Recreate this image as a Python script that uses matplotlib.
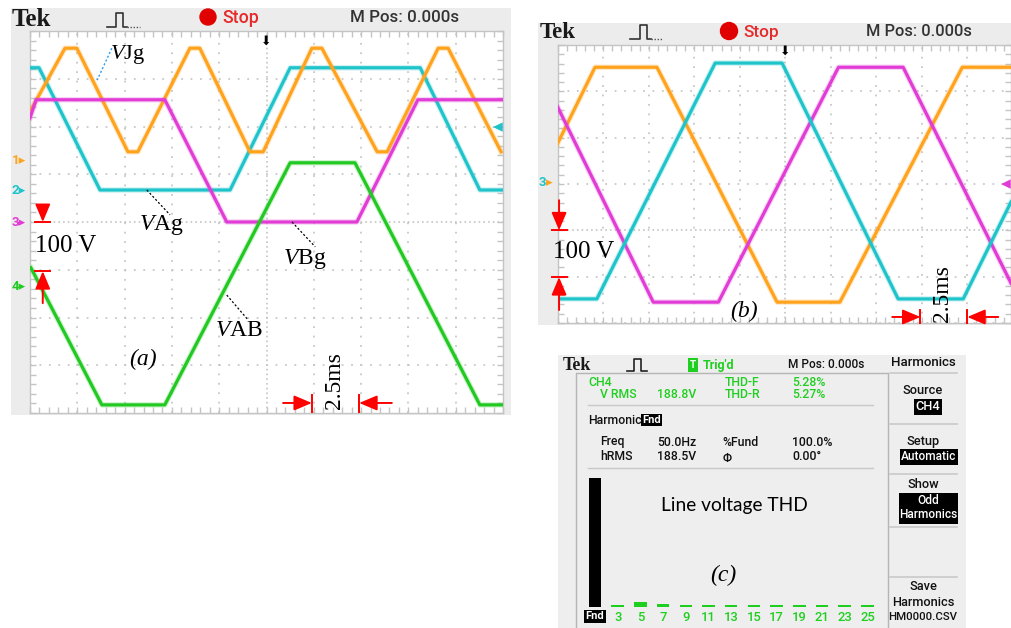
import numpy as np
import matplotlib
matplotlib.use('Agg')
import matplotlib.pyplot as plt
from matplotlib.ticker import MultipleLocator
from matplotlib.patches import Rectangle, Circle

plt.rcParams['lines.scale_dashes'] = False
plt.rcParams['mathtext.fontset'] = 'custom'
plt.rcParams['mathtext.rm'] = 'Liberation Serif'
plt.rcParams['mathtext.it'] = 'Liberation Serif:italic'

W, H = 1011, 628

ORANGE = '#ffa21c'
CYAN = '#1fc4ca'
MAGENTA = '#e23cd6'
GREEN = '#22c922'
SCOPE_GREEN = '#1fcf1f'
RED = '#ff0000'
PANEL = '#ececec'
GRID = '#c4c4c4'
SERIF = 'Liberation Serif'
UI = ['Roboto', 'DejaVu Sans']

# ── (a) waveforms, screen divisions (2.5 ms/div, 100 V/div) ──────────────────
vjg_t = [0.02, 0.74, 0.99, 2.07, 2.28, 3.38, 3.59, 4.65, 4.93, 5.96, 6.17,
         7.34, 7.55, 8.63, 8.84, 9.96]
vjg_v = [2.35, 3.64, 3.64, 1.47, 1.47, 3.64, 3.64, 1.47, 1.47, 3.64, 3.64,
         1.47, 1.47, 3.64, 3.64, 1.47]
vag_t = [0.0, 0.19, 1.48, 4.23, 5.50, 8.25, 9.51, 10.0]
vag_v = [3.23, 3.23, 0.67, 0.67, 3.23, 3.23, 0.67, 0.67]
vbg_t = [0.0, 0.13, 2.85, 4.16, 6.91, 8.20, 10.0]
vbg_v = [2.18, 2.56, 2.56, 0.0, 0.0, 2.56, 2.56]
vab_t = [0.02, 1.52, 2.85, 5.50, 6.87, 9.51, 10.0]
vab_v = [-0.96, -3.83, -3.83, 1.24, 1.24, -3.83, -3.83]

# ── (b) three line voltages ──────────────────────────────────────────────────
line1_t = [0.0, 0.82, 2.18, 4.82, 6.20, 8.89, 9.96]
line1_v = [1.88, 3.52, 3.52, -1.55, -1.55, 3.52, 3.52]
line2_t = [0.0, 0.86, 3.46, 4.93, 7.48, 8.91, 9.96]
line2_v = [-1.48, -1.48, 3.61, 3.61, -1.48, -1.48, 0.61]
line3_t = [0.0, 2.10, 3.53, 6.17, 7.59, 9.96]
line3_v = [2.66, -1.55, -1.55, 3.52, 3.52, -1.14]

# ── (c) harmonic spectrum, % of fundamental ──────────────────────────────────
harm_labels = ['Fnd', '3', '5', '7', '9', '11', '13', '15', '17', '19', '21',
               '23', '25']
harm_pct = [100, 1.4, 4.2, 2.4, 1.4, 1.4, 1.4, 1.4, 1.4, 1.4, 1.4, 1.4, 1.4]

fig = plt.figure(figsize=(W / 100, H / 100), dpi=100)
fig.patch.set_facecolor('white')

ARROW = dict(arrowstyle='-|>,head_length=0.9,head_width=0.38', color=RED,
             lw=1.4, mutation_scale=12, shrinkA=0, shrinkB=0)


def px_axes(l, t, r, b, z):
    ax = fig.add_axes([l / W, 1 - b / H, (r - l) / W, (b - t) / H])
    ax.set_zorder(z)
    return ax


def tek_grid(ax, xmax, ymin, ymax):
    ax.set_xlim(0, xmax)
    ax.set_ylim(ymin, ymax)
    ax.set_facecolor('white')
    for x in range(1, 10):
        ls = (0, (1.2, 2.2)) if x == 5 else (0, (1.3, 5.5))
        ax.axvline(x, color=GRID, lw=1.2, ls=ls, zorder=1)
    for y in range(-3, 4):
        ls = (0, (1.2, 2.2)) if y == 0 else (0, (1.3, 5.5))
        ax.axhline(y, color=GRID, lw=1.2, ls=ls, zorder=1)
    ax.xaxis.set_major_locator(MultipleLocator(1))
    ax.xaxis.set_minor_locator(MultipleLocator(0.2))
    ax.yaxis.set_major_locator(MultipleLocator(1))
    ax.yaxis.set_minor_locator(MultipleLocator(0.2))
    ax.tick_params(which='both', direction='in', top=True, right=True,
                   labelbottom=False, labelleft=False, color=GRID,
                   length=4, width=1)
    for s in ax.spines.values():
        s.set_color(GRID)
        s.set_linewidth(1)


def trace(ax, t, v, color):
    ax.plot(t, v, color=color, lw=4.0, alpha=0.22, solid_joinstyle='round',
            zorder=3)
    ax.plot(t, v, color=color, lw=2.3, solid_joinstyle='round', zorder=3)


def red_arrow(ax, start, end):
    ax.annotate('', xy=end, xytext=start, arrowprops=ARROW, zorder=5,
                annotation_clip=False)


def red_line(ax, xs, ys):
    ax.plot(xs, ys, color=RED, lw=1.4, zorder=5, clip_on=False)


def ui_text(x, y, s, size, color='#111111', **kw):
    kw.setdefault('va', 'center')
    kw.setdefault('weight', 'medium')
    back.text(x, y, s, color=color, fontsize=size, family=UI, **kw)


back = px_axes(0, 0, W, H, 0)
back.set_xlim(0, W)
back.set_ylim(H, 0)
back.axis('off')

# panel backgrounds
back.add_patch(Rectangle((11, 8), 500, 407, fc=PANEL, ec='none'))
back.add_patch(Rectangle((538, 23), 473, 302, fc=PANEL, ec='none'))
back.add_patch(Rectangle((558, 355), 408, 273, fc='#eeeeee', ec='none'))

# ── header (a) ───────────────────────────────────────────────────────────────
back.text(12, 20, 'Tek', family=SERIF, weight='bold', fontsize=18,
          va='center', color='#1a1a1a')
back.plot([107, 116, 116, 123, 123, 127], [27, 27, 13, 13, 27, 27],
          color='#333333', lw=1.2)
back.plot([127, 140], [27, 27], color='#555555', lw=1.0, ls=(0, (1, 1.2)))
back.add_patch(Circle((208, 17), 8, color='#e00000'))
ui_text(222, 18, 'Stop', 12.8, color='#e52b2b')
ui_text(350, 18, 'M Pos: 0.000s', 12.2, color='#333333')
for lab, col, y in [('1', ORANGE, 160), ('2', CYAN, 191), ('3', MAGENTA, 223),
                    ('4', GREEN, 287)]:
    ui_text(12, y, lab + '▸', 9.5, color=col, weight='bold')

# ── header (b) ───────────────────────────────────────────────────────────────
back.text(540, 33, 'Tek', family=SERIF, weight='bold', fontsize=16.5,
          va='center', color='#1a1a1a')
back.plot([630, 640, 640, 647, 647, 651], [39, 39, 25, 25, 39, 39],
          color='#333333', lw=1.2)
back.plot([651, 663], [39, 39], color='#555555', lw=1.0, ls=(0, (1, 1.2)))
back.add_patch(Circle((729, 31), 8.5, color='#e00000'))
ui_text(743, 32, 'Stop', 12.4, color='#e52b2b')
ui_text(866, 31, 'M Pos: 0.000s', 11.8, color='#333333')
ui_text(539, 183, '3', 9.5, color=CYAN, weight='bold')
ui_text(546, 183, '▸', 9.5, color=ORANGE, weight='bold')

# ── grid (a) ─────────────────────────────────────────────────────────────────
ga = px_axes(30, 31, 503, 413, 1)
tek_grid(ga, 10, -4, 4)
trace(ga, vag_t, vag_v, CYAN)
trace(ga, vjg_t, vjg_v, ORANGE)
trace(ga, vbg_t, vbg_v, MAGENTA)
trace(ga, vab_t, vab_v, GREEN)
ga.text(5.0, 3.78, '⬇', fontsize=9, ha='center', va='center', color='black',
        zorder=6)
ga.text(10.0, 2.0, '◂', fontsize=14, ha='right', va='center', color=CYAN,
        zorder=6, clip_on=False)

ga.text(2.07, 3.50, r'$\mathit{V}\mathrm{Jg}$', fontsize=16, ha='center',
        va='center', zorder=6)
ga.plot([1.73, 1.42], [3.64, 2.97], color='#2a9df4', lw=1.0,
        ls=(0, (1.5, 1.5)), zorder=6)
ga.text(2.77, -0.06, r'$\mathit{V}\mathrm{Ag}$', fontsize=17, ha='center',
        va='center', zorder=6)
ga.plot([2.47, 2.96], [0.67, 0.15], color='black', lw=0.9,
        ls=(0, (1.5, 1.5)), zorder=6)
ga.text(5.81, -0.77, r'$\mathit{V}\mathrm{Bg}$', fontsize=17, ha='center',
        va='center', zorder=6)
ga.plot([5.54, 6.03], [0.0, -0.52], color='black', lw=0.9,
        ls=(0, (1.5, 1.5)), zorder=6)
ga.text(4.42, -2.24, r'$\mathit{V}\mathrm{AB}$', fontsize=17, ha='center',
        va='center', zorder=6)
ga.plot([4.16, 4.61], [-1.53, -2.05], color='black', lw=0.9,
        ls=(0, (1.5, 1.5)), zorder=6)
ga.text(2.39, -2.87, '(a)', fontsize=17, family=SERIF, style='italic',
        ha='center', va='center', zorder=6)

# 100 V scale marker
ga.text(0.11, -0.50, '100 V', fontsize=18, family=SERIF, ha='left',
        va='center', zorder=6)
red_line(ga, [0.11, 0.42], [0.0, 0.0])
red_arrow(ga, (0.27, 0.33), (0.27, 0.0))
red_line(ga, [0.11, 0.42], [-1.03, -1.03])
red_arrow(ga, (0.27, -1.70), (0.27, -1.03))

# 2.5 ms time marker
red_arrow(ga, (5.35, -3.79), (5.96, -3.79))
red_line(ga, [5.96, 5.96], [-3.62, -3.98])
red_arrow(ga, (7.65, -3.79), (6.96, -3.79))
red_line(ga, [6.96, 6.96], [-3.62, -3.98])
ga.text(6.43, -2.72, '2.5ms', fontsize=17, family=SERIF, rotation=90,
        ha='center', va='top', zorder=6, clip_on=True)

# ── grid (b) ─────────────────────────────────────────────────────────────────
gb = px_axes(557.7, 45, 1011, 323, 1)
tek_grid(gb, 9.96, -2.0, 4.0)
trace(gb, line1_t, line1_v, ORANGE)
trace(gb, line3_t, line3_v, MAGENTA)
trace(gb, line2_t, line2_v, CYAN)
gb.text(5.0, 3.86, '⬇', fontsize=9, ha='center', va='center', color='black',
        zorder=6)
gb.text(9.96, 1.0, '◂', fontsize=14, ha='right', va='center', color=MAGENTA,
        zorder=6, clip_on=False)

gb.text(-0.10, -0.47, '100 V', fontsize=18, family=SERIF, ha='left',
        va='center', zorder=6)
red_line(gb, [-0.13, 0.20], [0.0, 0.0])
red_arrow(gb, (0.03, 0.65), (0.03, 0.0))
red_line(gb, [-0.13, 0.20], [-1.01, -1.01])
red_arrow(gb, (0.03, -1.72), (0.03, -1.01))
gb.text(4.10, -1.75, '(b)', fontsize=17, family=SERIF, style='italic',
        ha='center', va='center', zorder=6)
red_arrow(gb, (7.35, -1.87), (7.97, -1.87))
red_line(gb, [7.97, 7.97], [-1.72, -2.0])
red_arrow(gb, (9.68, -1.87), (9.0, -1.87))
red_line(gb, [9.0, 9.0], [-1.72, -2.0])
gb.text(8.45, -0.75, '2.5ms', fontsize=17, family=SERIF, rotation=90,
        ha='center', va='top', zorder=6, clip_on=True)

# ── panel (c): harmonics screen ──────────────────────────────────────────────
back.text(563, 365, 'Tek', family=SERIF, weight='bold', fontsize=13,
          va='center', color='#1a1a1a')
back.plot([627, 634, 634, 641, 641, 647], [371, 371, 359, 359, 371, 371],
          color='#222222', lw=1.2)
ui_text(693, 365, 'T', 7, color='white', ha='center', weight='bold',
        bbox=dict(boxstyle='square,pad=0.2', fc=SCOPE_GREEN, ec='none'))
ui_text(703, 365, "Trig'd", 9, color=SCOPE_GREEN, weight='bold')
ui_text(788, 364, 'M Pos: 0.000s', 8.6)

# inner frame and separators
back.plot([576, 576, 888, 888], [628, 373, 373, 628], color='#b5b5b5', lw=1)
back.plot([588, 873], [405, 405], color='#c8c8c8', lw=1)
back.plot([588, 873], [468, 468], color='#c8c8c8', lw=1)

cfs = 8.8
ui_text(588, 382, 'CH4', cfs, color=SCOPE_GREEN)
ui_text(600, 395, 'V RMS', cfs, color=SCOPE_GREEN)
ui_text(657, 395, '188.8V', cfs, color=SCOPE_GREEN)
ui_text(725, 382, 'THD-F', cfs, color=SCOPE_GREEN)
ui_text(725, 395, 'THD-R', cfs, color=SCOPE_GREEN)
ui_text(792, 382, '5.28%', cfs, color=SCOPE_GREEN)
ui_text(792, 395, '5.27%', cfs, color=SCOPE_GREEN)
ui_text(588, 420, 'Harmonic', cfs)
ui_text(642, 420, 'Fnd', cfs - 0.8, color='white', weight='bold',
        bbox=dict(boxstyle='square,pad=0.12', fc='black', ec='none'))
ui_text(600, 442, 'Freq', cfs)
ui_text(657, 442, '50.0Hz', cfs)
ui_text(722, 442, '%Fund', cfs)
ui_text(792, 442, '100.0%', cfs)
ui_text(600, 457, 'hRMS', cfs)
ui_text(657, 457, '188.5V', cfs)
ui_text(723, 458, 'Φ', cfs)
ui_text(792, 457, '0.00°', cfs)
back.text(734, 505, 'Line voltage THD', color='black', fontsize=13.8,
          family='Lato', ha='center', va='center')
back.text(723, 575, '(c)', color='black', fontsize=17, family=SERIF,
          style='italic', ha='center', va='center')

# right-hand menu
mx = 923
for y in [373, 424, 474, 527, 577]:
    back.plot([890, 957], [y, y], color='#c9c9c9', lw=1.2)
mfs = 9.2
ui_text(mx, 363, 'Harmonics', mfs + 0.3, ha='center')
ui_text(mx, 390, 'Source', mfs, ha='center')
ui_text(928, 407, 'CH4', mfs, color='white', ha='center',
        bbox=dict(boxstyle='square,pad=0.12', fc='black', ec='none'))
ui_text(mx, 441, 'Setup', mfs, ha='center')
ui_text(929, 457, 'Automatic', 8.6, color='white', ha='center',
        bbox=dict(boxstyle='square,pad=0.12', fc='black', ec='none'))
ui_text(mx, 484, 'Show', mfs, ha='center')
back.add_patch(Rectangle((899, 493), 59, 31, fc='black', ec='none'))
ui_text(928.5, 500, 'Odd', 8.6, color='white', ha='center')
ui_text(928.5, 515, 'Harmonics', 8.6, color='white', ha='center')
ui_text(mx, 587, 'Save', mfs, ha='center')
ui_text(mx, 602, 'Harmonics', mfs, ha='center')
ui_text(mx, 617, 'HM0000.CSV', 8.2, ha='center')

# spectrum bars
gc = px_axes(583.6, 478, 878.75, 607, 2)
gc.patch.set_alpha(0)
pos = np.arange(len(harm_labels))
gc.bar(pos, harm_pct, width=0.55,
       color=['black'] + [SCOPE_GREEN] * (len(harm_labels) - 1))
gc.set_xlim(-0.5, len(harm_labels) - 0.5)
gc.set_ylim(0, 100)
gc.set_xticks(pos, harm_labels)
gc.set_yticks([])
gc.tick_params(axis='x', length=0, pad=3)
for s in gc.spines.values():
    s.set_visible(False)
for i, lab in enumerate(gc.get_xticklabels()):
    lab.set_family(UI)
    if i == 0:
        lab.set_fontsize(8)
        lab.set_color('white')
        lab.set_weight('bold')
        lab.set_bbox(dict(boxstyle='square,pad=0.12', fc='black', ec='none'))
    else:
        lab.set_fontsize(9.4)
        lab.set_weight('medium')
        lab.set_color(SCOPE_GREEN)

fig.savefig('out.png', dpi=100, facecolor='white')
